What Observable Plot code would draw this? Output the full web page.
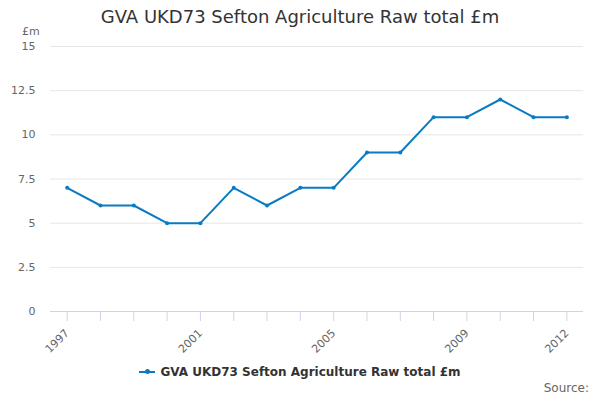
<!DOCTYPE html>
<html>
<head>
<meta charset="utf-8">
<script src="https://cdn.jsdelivr.net/npm/d3@7"></script>
<script src="https://cdn.jsdelivr.net/npm/@observablehq/plot@0.6"></script>
<style>
  body { margin: 0; background: #fff; font-family: "DejaVu Sans", sans-serif; }
  #wrap { position: relative; width: 600px; height: 400px; overflow: hidden; }
  #title { position: absolute; top: 6px; left: 0; width: 600px; text-align: center; font-size: 18px; color: #333; }
  #unit { position: absolute; top: 25px; left: 22px; font-size: 11px; color: #666; }
  #legend { position: absolute; top: 365px; left: 0; width: 600px; text-align: center; font-size: 12px; font-weight: bold; color: #333; }
  #legend .sym { display: inline-block; position: relative; width: 16px; height: 2px; background: #0a7bc2; vertical-align: middle; margin-right: 5px; top: -1px; }
  #legend .sym::after { content: ""; position: absolute; left: 6px; top: -1.5px; width: 5px; height: 5px; border-radius: 50%; background: #0a7bc2; }
  #source { position: absolute; top: 381px; right: 11px; font-size: 12px; color: #666; }
  #chart { position: absolute; top: 0; left: 0; }
</style>
</head>
<body>
<div id="wrap">
  <div id="chart"></div>
  <div id="title">GVA UKD73 Sefton Agriculture Raw total £m</div>
  <div id="unit">£m</div>
  <div id="legend"><span class="sym"></span>GVA UKD73 Sefton Agriculture Raw total £m</div>
  <div id="source">Source:</div>
</div>
<script>
const years = [1997,1998,1999,2000,2001,2002,2003,2004,2005,2006,2007,2008,2009,2010,2011,2012];
const values = [7,6,6,5,5,7,6,7,7,9,9,11,11,12,11,11];
const yTicks = [0,2.5,5,7.5,10,12.5,15];
const xLabelYears = [1997,2001,2005,2009,2012];

const data = years.map((y, i) => ({year: y, value: values[i]}));
const color = "#0a7bc2";

const chart = Plot.plot({
  width: 600,
  height: 400,
  marginTop: 46,
  marginBottom: 89,
  marginLeft: 50,
  marginRight: 17,
  style: {fontFamily: "DejaVu Sans, sans-serif", fontSize: "11px", color: "#666", background: "transparent"},
  x: {domain: [1996.5, 2012.5], axis: null},
  y: {domain: [0, 15], axis: null},
  marks: [
    Plot.gridY(yTicks, {stroke: "#e6e6e6", strokeOpacity: 1, strokeWidth: 1}),
    Plot.axisY(yTicks, {tickSize: 0, tickPadding: 0, dx: -15, fill: "#666", fontSize: 11, tickFormat: d => String(d), label: null}),
    Plot.ruleY([0], {stroke: "#ccd6eb", strokeWidth: 1}),
    Plot.axisX(years, {tickSize: 10, stroke: "#ccd6eb", strokeOpacity: 1, tickFormat: () => "", label: null}),
    Plot.axisX(xLabelYears, {tickSize: 0, tickRotate: -45, fill: "#666", fontSize: 11, tickFormat: d => String(d), textAnchor: "end", dy: 8, dx: 0, label: null}),
    Plot.line(data, {x: "year", y: "value", stroke: color, strokeWidth: 2}),
    Plot.dot(data, {x: "year", y: "value", fill: color, r: 2})
  ]
});
document.getElementById("chart").appendChild(chart);
</script>
</body>
</html>
